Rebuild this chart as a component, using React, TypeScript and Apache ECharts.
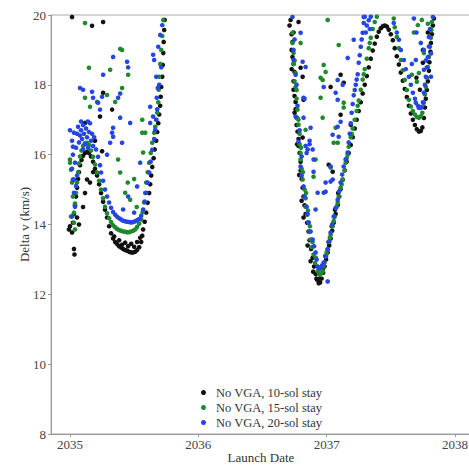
import React, { useEffect, useRef } from "react";
import * as echarts from "echarts";

const xTicks = [2035, 2036, 2037, 2038];
const seriesNames = ["No VGA, 10-sol stay", "No VGA, 15-sol stay", "No VGA, 20-sol stay"];
const seriesColors = ["#111111", "#1e8a2c", "#2545e6"];

// Launch date (decimal year), Delta v (km/s)
const sol10: number[][] = [
  [2034.992,13.86],[2035.0,13.95],[2035.016,13.77],[2035.031,13.3],[2035.035,13.14],
  [2035.023,14.05],[2035.031,14.3],[2035.039,14.55],[2035.047,14.8],[2035.055,15.05],[2035.063,15.3],[2035.07,15.5],[2035.078,15.7],[2035.09,15.85],[2035.102,15.97],[2035.117,16.05],[2035.133,16.08],[2035.148,16.05],[2035.164,15.95],[2035.18,15.8],[2035.195,15.6],[2035.211,15.4],[2035.227,15.15],[2035.242,14.9],[2035.258,14.65],[2035.273,14.42],[2035.289,14.2],[2035.305,13.95],[2035.32,13.75],[2035.336,13.6],[2035.352,13.5],[2035.367,13.44],[2035.383,13.38],[2035.398,13.34],[2035.414,13.3],[2035.43,13.27],[2035.445,13.25],[2035.461,13.22],[2035.477,13.2],[2035.492,13.2],[2035.508,13.22],[2035.523,13.27],[2035.539,13.35],[2035.555,13.5],[2035.563,13.68],[2035.57,13.86],[2035.582,14.08],[2035.594,14.34],[2035.605,14.62],[2035.617,14.9],[2035.625,15.15],[2035.633,15.4],[2035.641,15.65],[2035.652,15.9],[2035.66,16.15],[2035.672,16.4],[2035.68,16.65],[2035.688,16.9],[2035.695,17.15],[2035.703,17.4],[2035.707,17.66],[2035.711,17.94],[2035.719,18.23],[2035.723,18.57],[2035.727,18.91],[2035.73,19.23],[2035.734,19.57],[2035.738,19.86],
  [2035.383,13.55],[2035.43,13.48],[2035.477,13.45],[2035.523,13.5],[2035.344,13.66],[2035.406,13.42],[2035.453,13.38],[2035.5,13.36],[2035.547,13.62],
  [2035.016,19.94],[2035.172,19.69],[2035.258,19.8],[2035.258,17.77],[2035.328,17.29],[2035.234,17.09],[2035.117,16.91],[2035.133,15.29],[2035.156,15.2],[2035.117,14.9],[2035.102,14.5],[2035.18,15.5],[2035.195,16.4],[2035.25,16.1],[2035.055,14.2],[2035.07,14.0],
  [2036.719,19.86],[2036.711,19.7],[2036.727,19.45],[2036.734,19.23],[2036.727,19.0],[2036.734,18.8],[2036.742,18.6],[2036.75,18.37],[2036.742,18.1],[2036.742,17.86],[2036.75,17.68],[2036.758,17.51],[2036.758,17.3],[2036.766,17.06],[2036.766,16.85],[2036.773,16.66],[2036.781,16.45],[2036.781,16.25],[2036.789,16.05],[2036.797,15.8],[2036.797,15.55],[2036.805,15.3],[2036.813,15.05],[2036.82,14.8],[2036.828,14.55],[2036.836,14.3],[2036.848,14.05],[2036.859,13.8],[2036.867,13.55],[2036.879,13.3],[2036.891,13.05],[2036.902,12.8],[2036.914,12.58],[2036.926,12.42],[2036.938,12.32],[2036.949,12.34],[2036.961,12.45],[2036.973,12.62],[2036.984,12.8],[2036.996,13.0],[2037.008,13.2],[2037.02,13.4],[2037.031,13.6],[2037.043,13.82],[2037.055,14.05],[2037.07,14.3],[2037.086,14.55],[2037.098,14.8],[2037.109,15.02],[2037.125,15.28],[2037.141,15.55],[2037.156,15.8],[2037.172,16.05],[2037.188,16.28],[2037.203,16.5],[2037.219,16.75],[2037.234,17.0],[2037.25,17.25],[2037.266,17.5],[2037.281,17.75],[2037.297,18.0],[2037.313,18.25],[2037.328,18.5],[2037.344,18.75],[2037.359,18.98],[2037.375,19.18],[2037.391,19.38],[2037.406,19.52],[2037.422,19.62],[2037.438,19.68],[2037.453,19.7],[2037.469,19.67],[2037.484,19.58],[2037.5,19.45],[2037.516,19.28],[2037.531,19.05],[2037.547,18.82],[2037.563,18.58],[2037.578,18.35],[2037.594,18.12],[2037.609,17.88],[2037.625,17.65],[2037.641,17.4],[2037.656,17.18],[2037.672,17.0],[2037.688,16.85],[2037.703,16.73],[2037.719,16.66],[2037.734,16.68],[2037.746,16.78],[2037.758,17.05],[2037.766,17.35],[2037.773,17.6],[2037.781,17.85],[2037.789,18.1],[2037.797,18.4],[2037.801,18.65],[2037.809,18.95],[2037.813,19.2],[2037.82,19.45],[2037.828,19.7],[2037.836,19.9],
  [2036.727,18.45],[2036.75,17.2],[2036.77,16.3],[2036.786,15.42],[2036.805,14.68],[2036.82,14.2],[2036.852,13.4],[2036.875,12.95],[2036.895,12.65],[2036.92,12.45],[2036.945,12.45],[2036.97,12.72],[2036.99,13.1],[2037.015,13.5],[2037.04,13.95],[2037.065,14.42],[2037.09,14.9],
  [2036.797,18.49],[2036.813,18.23],[2036.82,17.57],[2037.109,18.29],[2037.031,17.94],[2037.133,18.06],[2037.109,17.14],[2037.188,16.86],[2036.813,16.49],[2037.016,15.71],[2037.047,15.51],[2036.781,19.8],[2036.742,19.5],[2037.727,17.86],[2037.75,18.63],[2037.789,19.5],[2037.75,19.0],[2037.7,18.2]
];

const sol15: number[][] = [
  [2035.0,15.86],[2035.008,15.57],[2035.016,15.2],[2035.023,14.8],[2035.031,14.34],[2035.039,13.86],[2035.008,14.23],[2035.0,15.77],[2035.031,14.05],[2035.039,14.6],[2035.047,14.9],[2035.055,15.2],[2035.063,15.5],[2035.07,15.75],[2035.078,15.95],[2035.09,16.12],[2035.102,16.25],[2035.117,16.33],[2035.133,16.34],[2035.148,16.28],[2035.164,16.12],[2035.18,15.94],[2035.195,15.72],[2035.211,15.49],[2035.227,15.25],[2035.242,15.0],[2035.258,14.75],[2035.273,14.51],[2035.289,14.32],[2035.305,14.18],[2035.32,14.07],[2035.336,13.98],[2035.352,13.92],[2035.367,13.87],[2035.383,13.84],[2035.398,13.82],[2035.414,13.8],[2035.43,13.79],[2035.445,13.78],[2035.461,13.78],[2035.477,13.8],[2035.492,13.82],[2035.508,13.86],[2035.523,13.93],[2035.539,14.02],[2035.555,14.14],[2035.566,14.35],[2035.578,14.63],[2035.586,14.9],[2035.594,15.2],[2035.605,15.5],[2035.617,15.77],[2035.629,16.05],[2035.641,16.34],[2035.656,16.63],[2035.664,16.8],[2035.672,17.0],[2035.68,17.2],[2035.688,17.5],[2035.691,17.86],[2035.695,18.23],[2035.703,18.6],[2035.711,19.0],[2035.719,19.4],[2035.727,19.86],
  [2035.117,19.77],[2035.391,19.03],[2035.406,19.0],[2035.148,18.49],[2035.313,18.43],[2035.453,18.29],[2035.117,17.63],[2035.156,17.37],[2035.289,17.71],[2035.352,17.51],[2035.211,17.51],[2035.563,17.0],[2035.406,17.91],[2035.586,16.63],[2035.375,15.86],[2035.391,15.49],[2035.43,14.91],[2035.469,14.71],[2035.563,16.63],[2035.57,16.06],[2035.5,15.3],[2035.52,14.5],[2035.45,15.2],
  [2036.734,19.49],[2036.742,18.91],[2036.758,18.34],[2036.758,17.94],[2036.773,17.29],[2036.781,16.86],[2036.734,19.2],[2036.742,18.6],[2036.75,18.1],[2036.766,17.6],[2036.773,17.05],[2036.789,16.6],[2036.789,16.3],[2036.797,16.05],[2036.797,15.86],[2036.805,15.6],[2036.813,15.29],[2036.828,15.0],[2036.836,14.75],[2036.836,14.51],[2036.848,14.28],[2036.859,14.06],[2036.867,13.8],[2036.875,13.57],[2036.883,13.35],[2036.898,13.14],[2036.91,12.9],[2036.93,12.66],[2036.945,12.57],[2036.957,12.6],[2036.969,12.66],[2036.984,12.91],[2036.996,13.1],[2037.008,13.29],[2037.02,13.5],[2037.031,13.7],[2037.047,13.95],[2037.063,14.22],[2037.078,14.5],[2037.094,14.8],[2037.109,15.05],[2037.125,15.29],[2037.141,15.55],[2037.148,15.77],[2037.164,16.0],[2037.172,16.23],[2037.188,16.5],[2037.203,16.75],[2037.219,17.0],[2037.234,17.25],[2037.25,17.55],[2037.266,17.86],[2037.281,18.15],[2037.297,18.45],[2037.313,18.75],[2037.328,19.05],[2037.344,19.35],[2037.359,19.6],[2037.375,19.8],[2037.391,19.95],
  [2036.75,18.7],[2036.766,17.85],[2036.78,17.0],[2036.8,16.2],[2036.815,15.5],[2036.84,14.9],[2036.855,14.4],[2036.87,13.95],[2036.89,13.5],[2036.915,13.05],[2036.94,12.72],[2036.975,12.8],[2037.0,13.2],[2037.025,13.62],[2037.055,14.1],[2037.086,14.62],[2037.117,15.15],[2037.156,15.9],[2037.195,16.6],[2037.242,17.4],[2037.289,18.3],[2037.336,19.2],
  [2037.523,19.9],[2037.531,19.65],[2037.547,19.37],[2037.563,19.05],[2037.578,18.71],[2037.594,18.42],[2037.609,18.14],[2037.625,17.85],[2037.641,17.57],[2037.656,17.38],[2037.672,17.25],[2037.688,17.15],[2037.703,17.08],[2037.719,17.06],[2037.734,17.1],[2037.746,17.2],[2037.758,17.49],[2037.766,17.72],[2037.773,17.94],[2037.781,18.2],[2037.789,18.51],[2037.797,18.8],[2037.805,19.09],[2037.813,19.35],[2037.816,19.57],[2037.82,19.8],
  [2037.008,19.86],[2037.094,19.14],[2036.977,18.57],[2036.992,18.37],[2036.969,18.14],[2036.953,17.63],[2037.133,17.49],[2037.133,17.35],[2036.969,17.06],[2037.07,16.77],[2037.055,16.34],[2036.836,16.71],[2036.797,19.2],[2036.953,18.2],[2037.086,16.34],[2037.031,15.63],[2036.914,15.86],[2036.898,15.37],[2037.711,19.71],[2037.742,19.86],[2037.703,18.09],[2037.719,18.34],[2037.758,18.91],[2037.664,18.29],[2037.789,19.75],[2037.68,19.5]
];

const sol20: number[][] = [
  [2035.0,16.7],[2035.016,16.4],[2035.023,16.0],[2035.016,15.6],[2035.023,15.29],[2035.031,14.91],[2035.039,14.51],[2035.016,14.23],[2035.031,16.63],[2035.023,16.23],[2035.039,15.77],[2035.031,15.29],[2035.047,15.1],[2035.055,15.4],[2035.047,16.2],[2035.055,16.6],
  [2035.063,16.8],[2035.078,16.55],[2035.07,16.35],[2035.086,16.7],[2035.094,16.45],[2035.102,16.85],[2035.109,16.6],[2035.117,16.3],[2035.125,16.75],[2035.133,16.5],[2035.141,16.2],[2035.148,16.65],[2035.156,16.9],[2035.164,16.4],[2035.172,16.6],[2035.18,16.25],[2035.188,16.5],[2035.102,16.15],[2035.086,16.95],[2035.14,16.95],
  [2035.203,16.15],[2035.219,15.94],[2035.234,15.7],[2035.242,15.49],[2035.258,15.25],[2035.273,15.0],[2035.289,14.8],[2035.305,14.63],[2035.32,14.48],[2035.336,14.36],[2035.352,14.28],[2035.367,14.22],[2035.383,14.18],[2035.398,14.14],[2035.414,14.11],[2035.43,14.09],[2035.445,14.08],[2035.461,14.07],[2035.477,14.06],[2035.492,14.07],[2035.508,14.09],[2035.523,14.12],[2035.539,14.16],[2035.555,14.25],[2035.57,14.43],[2035.582,14.66],[2035.594,14.91],[2035.605,15.2],[2035.617,15.49],[2035.629,15.8],[2035.641,16.14],[2035.656,16.45],[2035.664,16.71],
  [2035.672,17.0],[2035.68,17.3],[2035.676,17.63],[2035.684,17.91],[2035.672,18.23],[2035.656,18.71],[2035.648,18.86],[2035.688,19.09],[2035.703,19.43],[2035.719,19.71],[2035.625,17.37],[2035.648,17.09],[2035.625,16.91],[2035.711,18.5],[2035.695,18.0],
  [2035.336,18.8],[2035.445,18.66],[2035.453,18.5],[2035.258,18.29],[2035.102,17.86],[2035.078,17.91],[2035.172,17.8],[2035.18,17.63],[2035.25,17.66],[2035.219,17.49],[2035.375,17.63],[2035.391,17.75],[2035.234,17.29],[2035.391,17.06],[2035.336,16.77],[2035.469,16.91],[2035.328,16.63],[2035.313,16.34],[2035.406,16.34],[2035.547,15.77],[2035.523,15.09],[2035.453,14.8],[2035.414,14.43],[2035.5,14.34],[2035.336,16.51],[2035.289,16.0],
  [2036.734,19.94],[2036.797,19.49],[2036.742,18.71],[2036.813,18.66],[2036.836,18.51],[2036.758,18.29],[2036.82,17.63],[2036.828,17.6],[2036.758,17.09],[2036.82,17.06],[2036.875,16.77],[2036.781,16.37],[2036.836,16.25],[2036.852,16.15],[2036.867,16.3],[2036.844,16.05],[2036.797,15.66],[2036.82,15.09],[2036.844,14.51],[2036.859,14.06],[2036.891,13.57],[2036.914,13.2],[2036.93,12.8],[2036.953,12.77],[2037.008,12.37],[2036.977,12.91],[2037.008,13.29],[2037.031,13.77],[2037.055,14.23],[2037.086,14.71],[2037.109,15.2],[2037.133,15.66],[2037.164,16.06],
  [2036.75,19.3],[2036.742,19.0],[2036.766,18.0],[2036.773,17.4],[2036.789,16.7],[2036.805,15.95],[2036.805,15.4],[2036.828,14.8],[2036.852,14.3],[2036.875,13.8],[2036.902,13.38],[2036.922,13.0],[2036.941,12.75],[2036.965,12.83],[2036.992,13.08],[2037.02,13.52],[2037.043,14.0],[2037.07,14.47],[2037.098,14.95],[2037.121,15.43],[2037.148,15.86],
  [2037.18,16.6],[2037.195,17.2],[2037.211,17.7],[2037.227,18.0],[2037.242,18.3],[2037.25,18.63],[2037.266,19.09],[2037.281,19.49],[2037.289,19.77],[2037.297,19.95],[2037.172,16.35],[2037.188,16.9],[2037.203,17.45],[2037.219,17.85],[2037.234,18.15],[2037.258,18.85],[2037.273,19.3],
  [2037.313,19.7],[2037.328,19.85],[2037.344,19.95],[2037.336,19.6],[2037.305,19.5],
  [2037.523,19.77],[2037.547,19.5],[2037.563,19.29],[2037.578,19.0],[2037.602,18.71],[2037.617,18.45],[2037.641,18.23],[2037.656,18.0],[2037.672,17.77],[2037.688,17.6],[2037.695,17.49],[2037.711,17.4],[2037.719,17.34],[2037.734,17.34],[2037.742,17.37],[2037.75,17.5],[2037.758,17.77],[2037.766,18.0],[2037.773,18.23],[2037.781,18.5],[2037.789,18.8],[2037.797,19.1],[2037.797,19.37],[2037.805,19.6],
  [2037.734,19.2],[2037.758,19.0],[2037.773,18.7],[2037.813,18.9],[2037.828,19.94],[2037.695,18.71],[2037.758,18.43],[2037.813,18.23],[2037.664,18.6],[2037.68,19.9],[2037.7,19.5],
  [2037.086,18.14],[2037.125,18.0],[2037.07,17.77],[2037.109,16.94],[2037.047,16.57],[2036.977,17.94],[2036.867,16.4],[2036.891,16.15],[2036.93,14.91],[2036.992,14.94],[2037.031,15.23],[2037.094,16.51],[2037.086,16.8],[2037.086,17.57],[2037.211,19.29],[2037.164,18.77],[2037.289,19.94],[2036.898,15.51],[2036.992,15.2],[2036.977,14.91],[2037.047,15.29],[2036.914,14.43],[2036.898,15.86],[2037.031,15.66]
];

const allSeries = [sol10, sol15, sol20];
const FONT = "'Liberation Serif', 'Times New Roman', 'DejaVu Serif', serif";

export default function App() {
  const ref = useRef<HTMLDivElement>(null);
  useEffect(() => {
    const chart = echarts.init(ref.current!, null, { renderer: "svg" });
    chart.setOption({
      animation: false,
      backgroundColor: "#ffffff",
      textStyle: { fontFamily: FONT },
      grid: {
        left: 51, top: 15, right: -2, bottom: 31,
        containLabel: false,
        outerBoundsMode: "none",
        show: true, borderColor: "#aaaaaa", borderWidth: 1, backgroundColor: "transparent"
      },
      xAxis: {
        type: "value",
        min: 2034.852,
        max: 2038.125,
        name: "Launch Date",
        nameLocation: "middle",
        nameGap: 17,
        nameMoveOverlap: false,
        nameTextStyle: { fontFamily: FONT, fontSize: 13, color: "#333333" },
        axisLine: { show: true, lineStyle: { color: "#999999", width: 1 } },
        axisTick: { show: true, length: 3, customValues: xTicks, lineStyle: { color: "#999999" } },
        axisLabel: {
          customValues: xTicks, margin: 4, fontFamily: FONT, fontSize: 13, color: "#444444",
          formatter: (v: number) => String(Math.round(v))
        },
        splitLine: { show: false }
      },
      yAxis: {
        type: "value",
        min: 8,
        max: 20,
        interval: 2,
        name: "Delta v (km/s)",
        nameLocation: "middle",
        nameGap: 20,
        nameMoveOverlap: false,
        nameTextStyle: { fontFamily: FONT, fontSize: 13, color: "#333333" },
        axisLine: { show: true, lineStyle: { color: "#999999", width: 1 } },
        axisTick: { show: true, length: 3, lineStyle: { color: "#999999" } },
        axisLabel: { margin: 5, fontFamily: FONT, fontSize: 13, color: "#444444" },
        splitLine: { show: false }
      },
      legend: {
        orient: "vertical",
        left: 201,
        top: 385,
        padding: 0,
        itemGap: 0,
        itemWidth: 5,
        itemHeight: 5,
        icon: "circle",
        selectedMode: false,
        textStyle: { fontFamily: FONT, fontSize: 12.5, color: "#333333", lineHeight: 15, padding: [0, 0, 0, 5] },
        data: seriesNames
      },
      series: allSeries.map((d, i) => ({
        type: "scatter",
        name: seriesNames[i],
        data: d,
        symbol: "circle",
        symbolSize: 4.6,
        itemStyle: { color: seriesColors[i], opacity: 1 },
        emphasis: { disabled: true }
      }))
    });
    return () => chart.dispose();
  }, []);
  return (
    <div
      ref={ref}
      style={{ position: "absolute", left: 0, top: 0, width: 469, height: 465, background: "#ffffff" }}
    />
  );
}
